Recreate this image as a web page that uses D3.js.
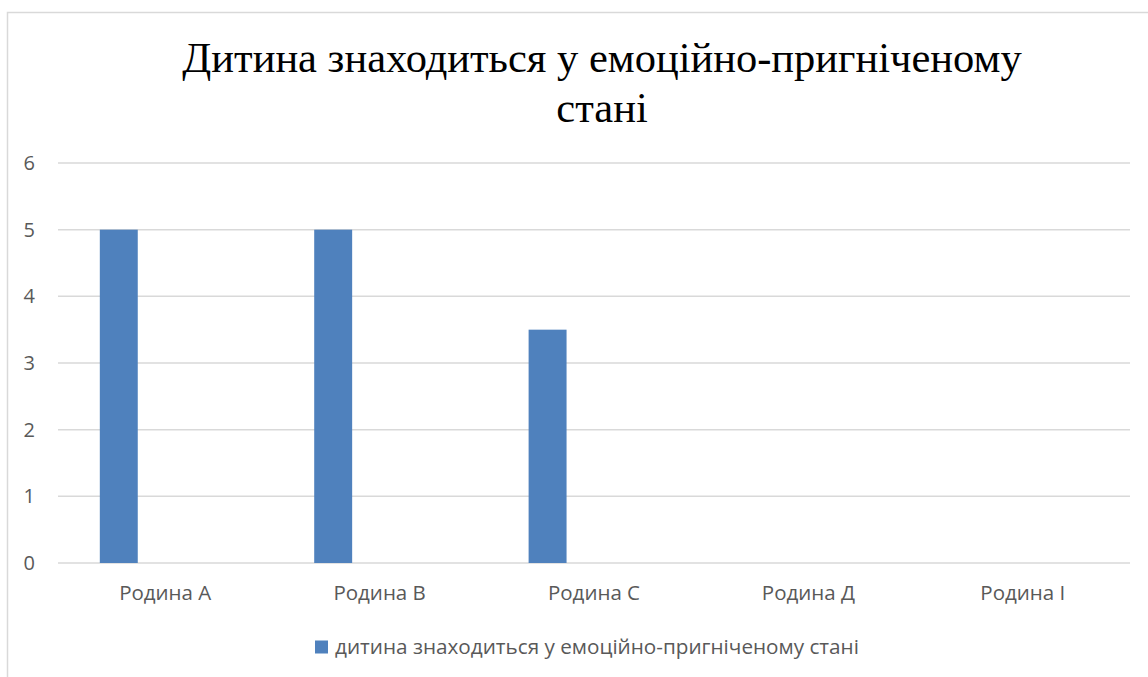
<!DOCTYPE html>
<html>
<head>
<meta charset="utf-8">
<script src="https://cdn.jsdelivr.net/npm/d3@7"></script>
<style>
  body { margin: 0; background: #fff; }
  svg { display: block; }
</style>
</head>
<body>
<div id="chart"></div>
<script>
// data
var categories = ["Родина A", "Родина B", "Родина C", "Родина Д", "Родина I"];
var values = [5, 5, 3.5, 0, 0];
var yTicks = [0, 1, 2, 3, 4, 5, 6];
var titleLines = ["Дитина знаходиться у емоційно-пригніченому", "стані"];
var seriesName = "дитина знаходиться у емоційно-пригніченому стані";

var svgWidth = 1148, svgHeight = 677;
var margin = { top: 163, right: 18, bottom: 114, left: 58 };
var width = svgWidth - margin.left - margin.right;
var height = svgHeight - margin.top - margin.bottom;

var svg = d3.select("#chart").append("svg")
    .attr("width", svgWidth)
    .attr("height", svgHeight);

// chart frame (runs off the right and bottom edge)
svg.append("rect")
    .attr("x", 7.5).attr("y", 12.5)
    .attr("width", 1300).attr("height", 800)
    .attr("fill", "none")
    .attr("stroke", "#d9d9d9")
    .attr("stroke-width", 1.5);

// title
svg.append("g").selectAll("text")
    .data(titleLines)
    .enter().append("text")
        .attr("x", 602)
        .attr("y", function(d, i) { return 72 + i * 50; })
        .attr("text-anchor", "middle")
        .attr("font-family", "'Liberation Serif', 'Times New Roman', serif")
        .attr("font-size", 42.5)
        .attr("fill", "#000")
        .text(function(d) { return d; });

var g = svg.append("g")
    .attr("transform", `translate(${margin.left}, ${margin.top})`);

// scales
var x = d3.scaleBand().domain(categories).range([0, width]);
var y = d3.scaleLinear().domain([0, 6]).range([height, 0]);

// grid lines
g.append("g").selectAll("line")
    .data(yTicks)
    .enter().append("line")
        .attr("x1", 0).attr("x2", width)
        .attr("y1", function(d) { return y(d); })
        .attr("y2", function(d) { return y(d); })
        .attr("stroke", "#d9d9d9")
        .attr("stroke-width", 1.5);

// y axis labels
var yAxis = d3.axisLeft(y).tickValues(yTicks).tickFormat(d3.format("d")).tickSize(0).tickPadding(23);
g.append("g")
    .call(yAxis)
    .call(function(a) { a.select(".domain").remove(); })
    .selectAll("text")
        .attr("font-family", "'Open Sans', sans-serif")
        .attr("font-size", 20)
        .attr("fill", "#595959");

// x axis labels
var xAxis = d3.axisBottom(x).tickSize(0).tickPadding(22);
g.append("g")
    .attr("transform", "translate(0," + height + ")")
    .call(xAxis)
    .call(function(a) { a.select(".domain").remove(); })
    .selectAll("text")
        .attr("font-family", "'Open Sans', sans-serif")
        .attr("font-size", 20.5)
        .attr("fill", "#595959");

// bars sit in the left part of each slot
var barOffset = x.bandwidth() * 0.195;
var barWidth = x.bandwidth() * 0.177;
g.append("g").selectAll("rect")
    .data(values)
    .enter().append("rect")
        .attr("x", function(d, i) { return x(categories[i]) + barOffset; })
        .attr("y", function(d) { return y(d); })
        .attr("width", barWidth)
        .attr("height", function(d) { return height - y(d); })
        .attr("fill", "#4f81bd");

// legend
var legend = svg.append("g").attr("transform", "translate(315, 647)");
legend.append("rect")
    .attr("x", 0).attr("y", -6.5)
    .attr("width", 13).attr("height", 13)
    .attr("fill", "#4f81bd");
legend.append("text")
    .attr("x", 20).attr("y", 0)
    .attr("dy", "0.35em")
    .attr("font-family", "'Open Sans', sans-serif")
    .attr("font-size", 20.7)
    .attr("fill", "#595959")
    .text(seriesName);
</script>
</body>
</html>
